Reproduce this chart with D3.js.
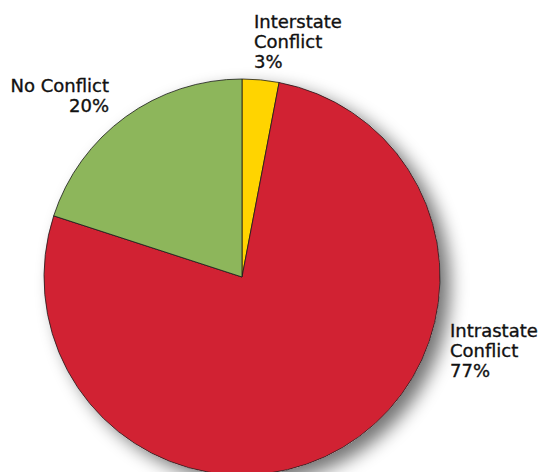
<!DOCTYPE html>
<html>
<head>
<meta charset="utf-8">
<script src="https://cdn.jsdelivr.net/npm/d3@7/dist/d3.min.js"></script>
<style>
  html, body { margin: 0; padding: 0; background: #fff; }
  svg { display: block; }
  text { font-family: "DejaVu Sans", sans-serif; fill: #111; stroke: #111; stroke-width: 0.35px; }
</style>
</head>
<body>
<script>
// Share of countries by conflict type
const categories = ["Interstate Conflict", "Intrastate Conflict", "No Conflict"];
const shares = [3, 77, 20];
const colors = ["#FFD400", "#D12233", "#8DB65B"];
const labelLines = [["Interstate", "Conflict", "3%"], ["Intrastate", "Conflict", "77%"], ["No Conflict", "20%"]];

const W = 538, H = 472;
const cx = 242, cy = 277, R = 198;

const svg = d3.select("body").append("svg").attr("width", W).attr("height", H);

const defs = svg.append("defs");
const f = defs.append("filter").attr("id", "shadow")
  .attr("x", "-20%").attr("y", "-20%").attr("width", "150%").attr("height", "150%");
f.append("feGaussianBlur").attr("in", "SourceAlpha").attr("stdDeviation", 9).attr("result", "b");
f.append("feOffset").attr("in", "b").attr("dx", 10).attr("dy", 8).attr("result", "o");
f.append("feComponentTransfer").attr("in", "o").attr("result", "s")
  .append("feFuncA").attr("type", "linear").attr("slope", 0.55);
const m = f.append("feMerge");
m.append("feMergeNode").attr("in", "s");
m.append("feMergeNode").attr("in", "SourceGraphic");

const data = categories.map((c, i) => ({ name: c, value: shares[i], color: colors[i] }));
const pie = d3.pie().sort(null).value(d => d.value);
const arc = d3.arc().innerRadius(0).outerRadius(R);

const g = svg.append("g").attr("transform", `translate(${cx},${cy})`);
g.append("circle").attr("r", R).attr("fill", "#fff").attr("filter", "url(#shadow)");
g.selectAll("path").data(pie(data)).join("path")
  .attr("d", arc)
  .attr("fill", d => d.data.color)
  .attr("stroke", "#1a1a1a")
  .attr("stroke-width", 0.8)
  .attr("stroke-linejoin", "round");

// Labels
const labelPos = [
  { x: 254, y: 28, anchor: "start" },
  { x: 450, y: 337, anchor: "start" },
  { x: 109, y: 92, anchor: "end" }
];
labelLines.forEach((lines, i) => {
  const p = labelPos[i];
  const t = svg.append("text").attr("x", p.x).attr("y", p.y)
    .attr("text-anchor", p.anchor).attr("font-size", 18);
  lines.forEach((l, j) => {
    t.append("tspan").attr("x", p.x).attr("dy", j === 0 ? 0 : 20).text(l);
  });
});
</script>
</body>
</html>
